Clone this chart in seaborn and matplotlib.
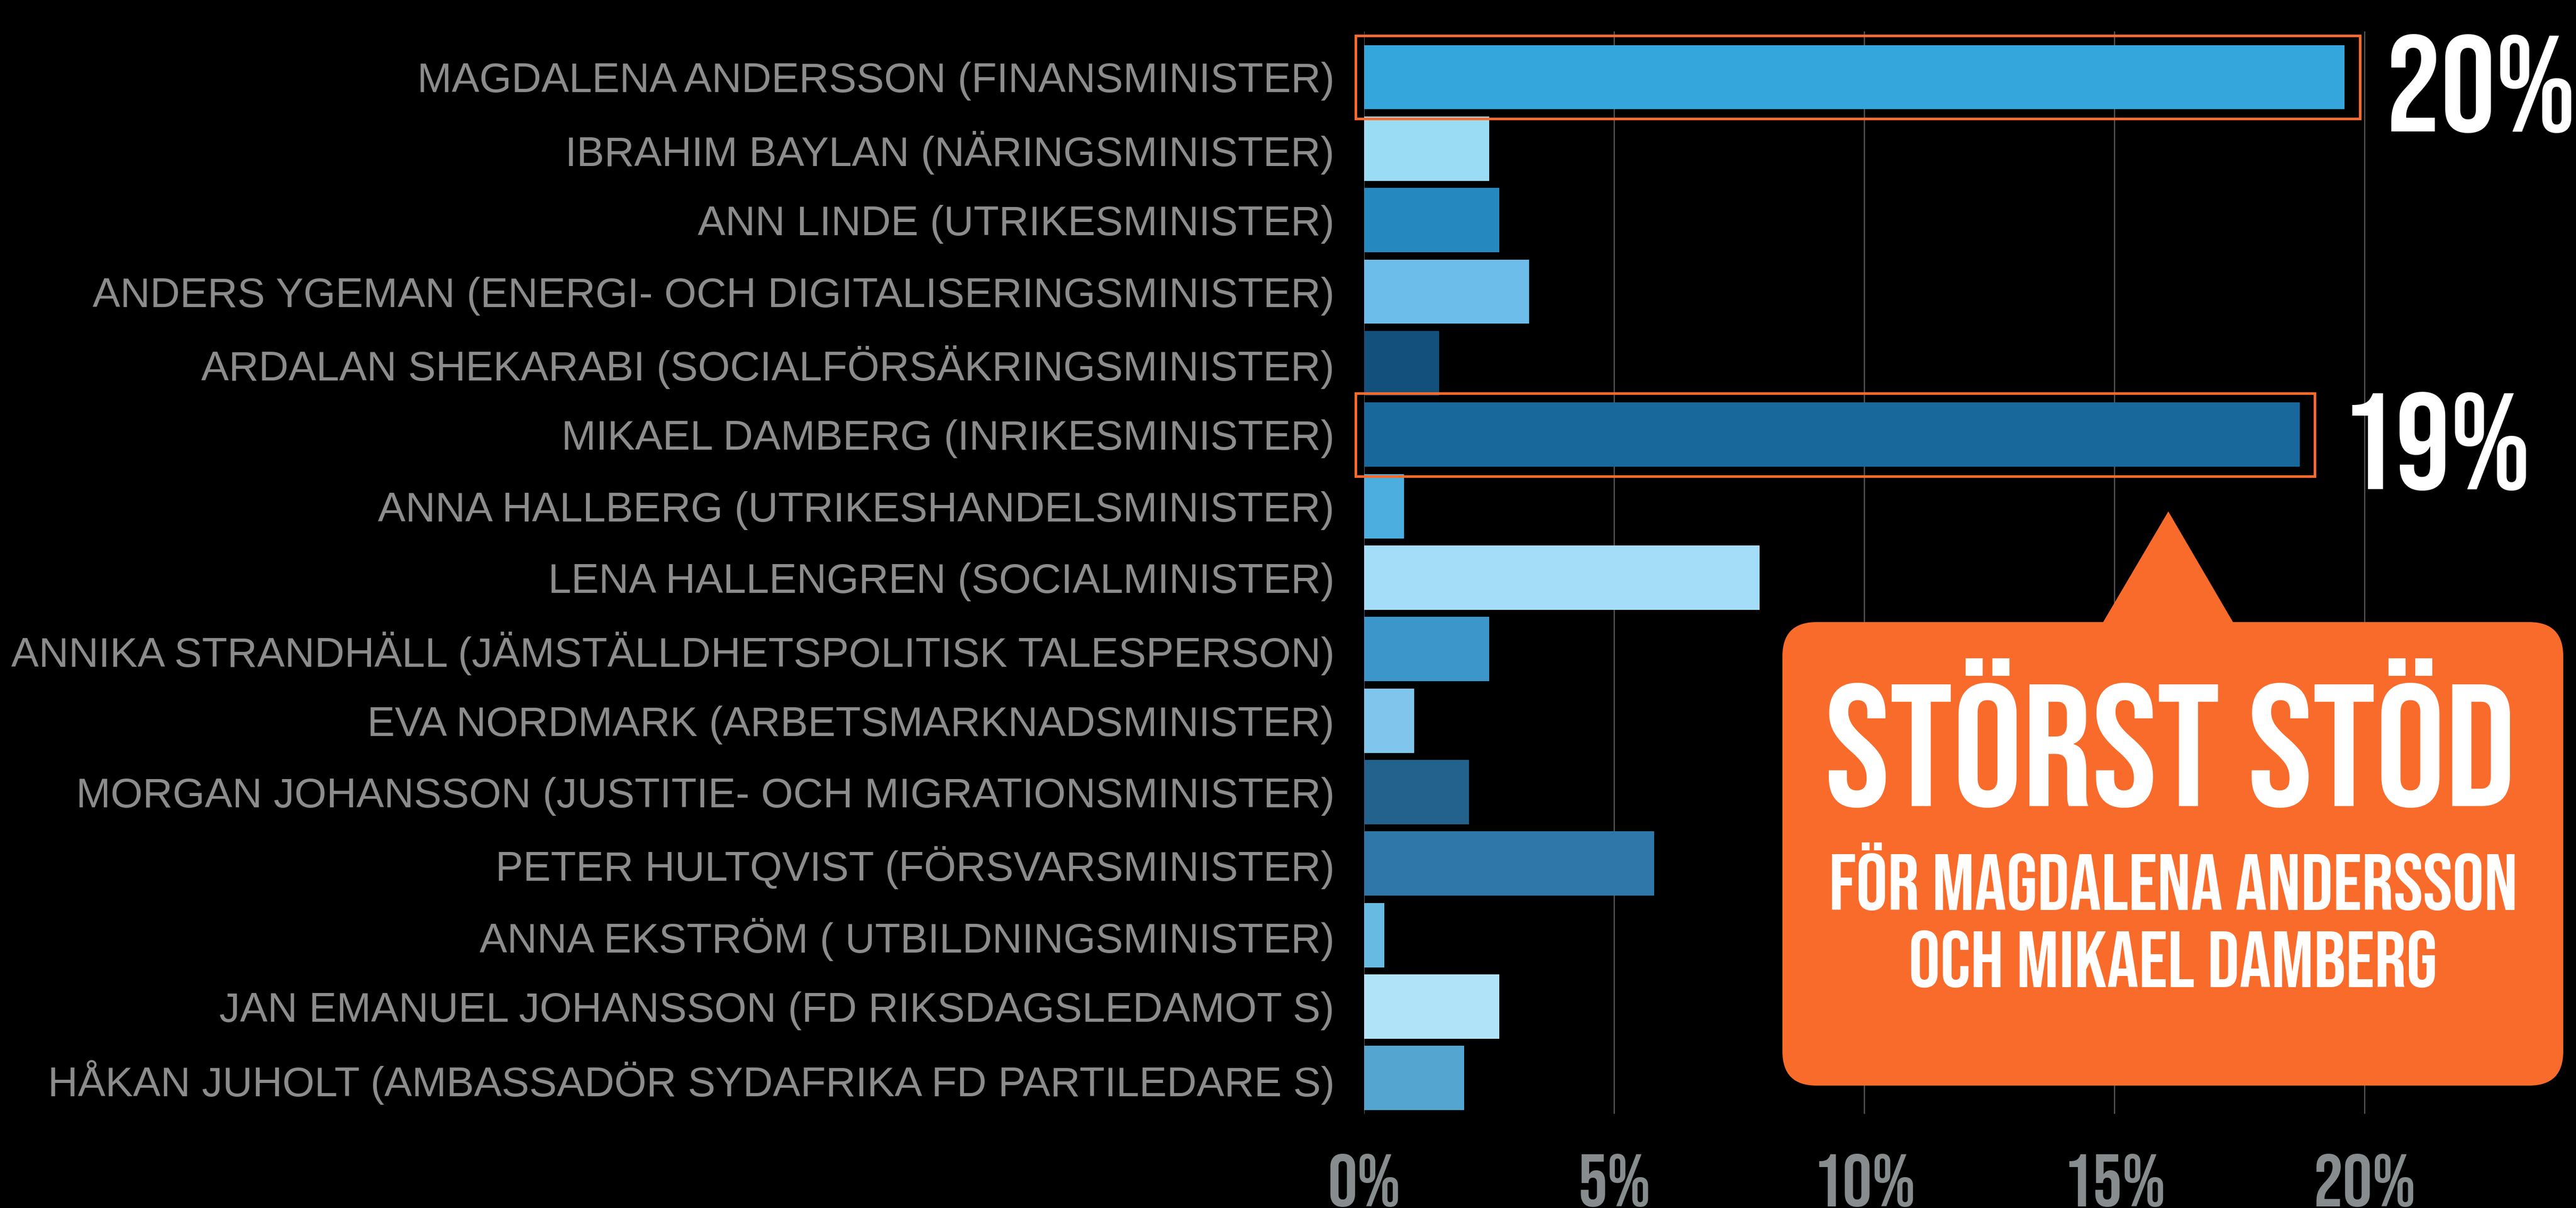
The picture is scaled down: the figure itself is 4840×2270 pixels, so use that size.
import matplotlib
matplotlib.use('Agg')
import matplotlib.pyplot as plt
from matplotlib import font_manager
from matplotlib.patches import FancyBboxPatch, Polygon, Rectangle
import seaborn as sns

# data
names = [
    'MAGDALENA ANDERSSON (FINANSMINISTER)',
    'IBRAHIM BAYLAN (NÄRINGSMINISTER)',
    'ANN LINDE (UTRIKESMINISTER)',
    'ANDERS YGEMAN (ENERGI- OCH DIGITALISERINGSMINISTER)',
    'ARDALAN SHEKARABI (SOCIALFÖRSÄKRINGSMINISTER)',
    'MIKAEL DAMBERG (INRIKESMINISTER)',
    'ANNA HALLBERG (UTRIKESHANDELSMINISTER)',
    'LENA HALLENGREN (SOCIALMINISTER)',
    'ANNIKA STRANDHÄLL (JÄMSTÄLLDHETSPOLITISK TALESPERSON)',
    'EVA NORDMARK (ARBETSMARKNADSMINISTER)',
    'MORGAN JOHANSSON (JUSTITIE- OCH MIGRATIONSMINISTER)',
    'PETER HULTQVIST (FÖRSVARSMINISTER)',
    'ANNA EKSTRÖM ( UTBILDNINGSMINISTER)',
    'JAN EMANUEL JOHANSSON (FD RIKSDAGSLEDAMOT S)',
    'HÅKAN JUHOLT (AMBASSADÖR SYDAFRIKA FD PARTILEDARE S)',
]
support = [19.6, 2.5, 2.7, 3.3, 1.5, 18.7, 0.8, 7.9, 2.5, 1.0, 2.1, 5.8, 0.4, 2.7, 2.0]
bar_colors = ['#35a6db', '#9bdcf5', '#2589c0', '#6cbde9', '#13507c',
              '#18689c', '#4baedf', '#a4ddf7', '#3c96ca', '#80c6ec',
              '#23628c', '#2e77a8', '#67bbe3', '#b0e3f8', '#54a5d0']
xticks = [0, 5, 10, 15, 20]
xtick_labels = ['0%', '5%', '10%', '15%', '20%']
highlights = {0: '20%', 5: '19%'}
callout_title = 'STÖRST STÖD'
callout_lines = ['FÖR MAGDALENA ANDERSSON', 'OCH MIKAEL DAMBERG']

orange = '#f96b2b'
label_gray = '#8c8c8c'
grid_gray = '#555555'

installed = {f.name for f in font_manager.fontManager.ttflist}


def pick(*cands):
    for c in cands:
        if c in installed:
            return c
    return 'DejaVu Sans'


cond = pick('Bebas Neue', 'Barlow Condensed', 'Asap Condensed', 'DejaVu Sans')
regular = pick('Liberation Sans', 'Arimo', 'DejaVu Sans')

W, H = 4840, 2270
fig = plt.figure(figsize=(W / 100, H / 100), dpi=100, facecolor='black')
ax = fig.add_axes([2563 / W, (H - 2093) / H, (4725 - 2563) / W, (2093 - 59) / H])
ax.set_facecolor('black')

sns.barplot(x=support, y=names, hue=names, palette=bar_colors, legend=False,
            saturation=1, width=0.9, orient='h', ax=ax, zorder=2)

ax.set_xlim(0, 23)
ax.set_ylim(14.5, -0.64)
ax.set_xticks(xticks)
ax.set_xticklabels(xtick_labels, fontfamily=cond, fontsize=100, color='#878c8e')
ax.tick_params(axis='x', length=0, pad=54)
ax.tick_params(axis='y', length=0, pad=40, labelsize=56, labelcolor=label_gray)
for lbl in ax.get_yticklabels():
    lbl.set_fontfamily(regular)
ax.set_xlabel('')
ax.set_ylabel('')
ax.xaxis.grid(True, color=grid_gray, lw=1.7, zorder=0)
ax.yaxis.grid(False)
ax.set_axisbelow(True)
for s in ax.spines.values():
    s.set_visible(False)

# orange frames and big numbers on the two top bars
for idx, txt in highlights.items():
    right = support[idx] + 0.3
    ax.add_patch(Rectangle((-0.17, idx - 0.58), right + 0.17, 1.16, fill=False,
                           ec=orange, lw=3.5, clip_on=False, zorder=3))
    ax.text(right + 2.42, idx + 0.76, txt, ha='center', va='baseline',
            fontfamily=cond, fontsize=185, color='white', clip_on=False)

# speech bubble, drawn in pixel coordinates
over = fig.add_axes([0, 0, 1, 1], zorder=5)
over.set_xlim(0, W)
over.set_ylim(H, 0)
over.axis('off')
over.patch.set_alpha(0)
over.add_patch(FancyBboxPatch((3349, 1169), 4816 - 3349, 2040 - 1169,
                              boxstyle='round,pad=0,rounding_size=64',
                              fc=orange, ec='none'))
over.add_patch(Polygon([(3948, 1175), (4074, 961), (4199, 1175)],
                       closed=True, fc=orange, ec='none'))
over.text(4078, 1515, callout_title, ha='center', va='baseline',
          fontfamily=cond, fontsize=235, color='white')
over.text(4083, 1710, callout_lines[0], ha='center', va='baseline',
          fontfamily=cond, fontsize=107, color='white')
over.text(4083, 1855, callout_lines[1], ha='center', va='baseline',
          fontfamily=cond, fontsize=107, color='white')

fig.savefig('out.png', dpi=100, facecolor='black')
